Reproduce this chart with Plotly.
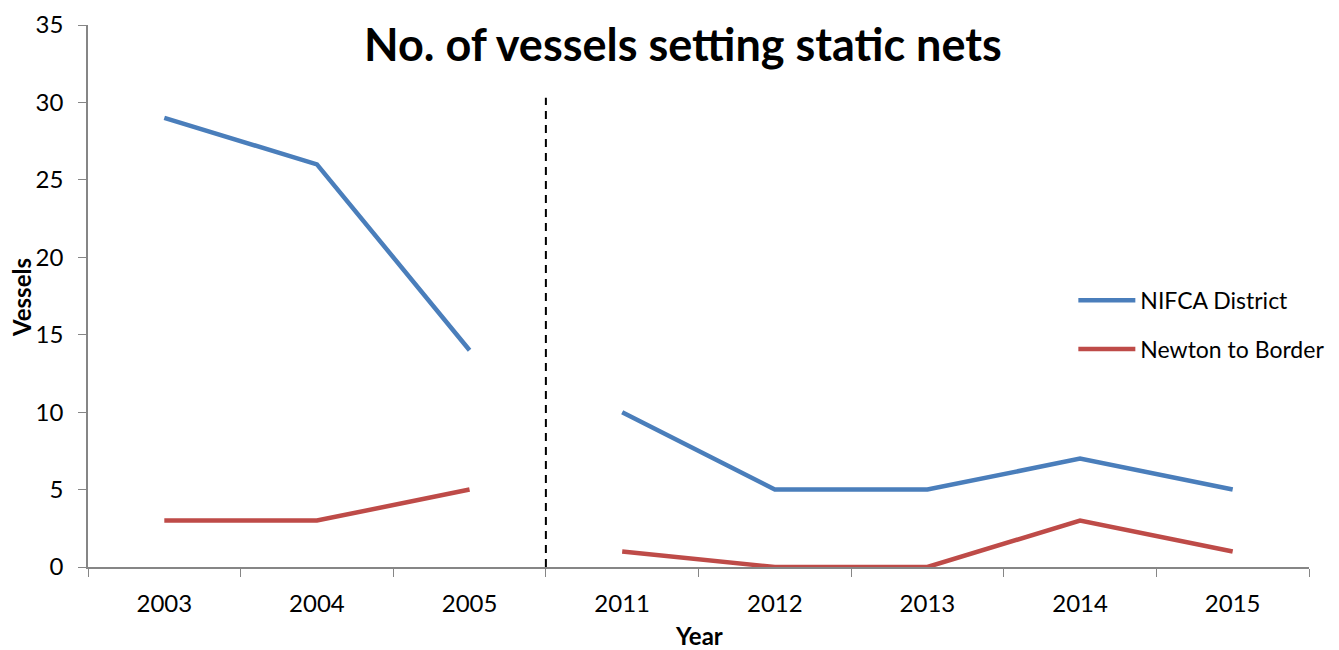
import plotly.graph_objects as go

# Survey years (two separate periods) and vessel counts
years_early = ["2003", "2004", "2005"]
years_late = ["2011", "2012", "2013", "2014", "2015"]
nifca_early = [29, 26, 14]
nifca_late = [10, 5, 5, 7, 5]
newton_early = [3, 3, 5]
newton_late = [1, 0, 0, 3, 1]
all_years = years_early + years_late

BLUE = "#4A7EBB"
RED = "#BE4B48"
FONT = "Lato"
AXIS_GREY = "#868686"

fig = go.Figure()

def add_series(name, color, early, late):
    fig.add_trace(go.Scatter(x=years_early, y=early, mode="lines", name=name,
                             legendgroup=name, showlegend=True,
                             line=dict(color=color, width=4.5)))
    fig.add_trace(go.Scatter(x=years_late, y=late, mode="lines", name=name,
                             legendgroup=name, showlegend=False,
                             line=dict(color=color, width=4.5)))

add_series("NIFCA District", BLUE, nifca_early, nifca_late)
add_series("Newton to Border", RED, newton_early, newton_late)

# Dashed divider between the two survey periods
fig.add_shape(type="line", xref="x", yref="y", x0=2.5, x1=2.5, y0=0, y1=30.3,
              line=dict(color="black", width=2, dash="8px,6px"))

# Axis titles placed as annotations relative to the plot area
fig.add_annotation(text="<b>Vessels</b>", xref="paper", yref="paper", x=0, y=0.5,
                   xanchor="center", yanchor="middle", xshift=-67, yshift=-2,
                   textangle=-90, showarrow=False, borderpad=0,
                   font=dict(family=FONT, size=24))
fig.add_annotation(text="<b>Year</b>", xref="paper", yref="paper", x=0.5, y=0,
                   xanchor="center", yanchor="middle", yshift=-68, borderpad=0,
                   showarrow=False, font=dict(family=FONT, size=24))

fig.update_layout(
    width=1339, height=650,
    margin=dict(l=88, r=30, t=25, b=83, autoexpand=False),
    paper_bgcolor="white", plot_bgcolor="white",
    font=dict(family=FONT, size=24, color="black"),
    title=dict(text="<b>No. of vessels setting static nets</b>",
               font=dict(family=FONT, size=45, color="black"),
               x=0.51, xanchor="center", y=0.93, yanchor="middle"),
    showlegend=True,
    legend=dict(x=0.807, y=0.447, xanchor="left", yanchor="middle",
                font=dict(family=FONT, size=23), itemwidth=57,
                tracegroupgap=16, bgcolor="rgba(0,0,0,0)"),
)

fig.update_xaxes(type="category", categoryorder="array", categoryarray=all_years,
                 range=[-0.5, 7.5], tickson="boundaries", ticks="outside",
                 ticklen=8, tickcolor=AXIS_GREY, showline=True, linecolor=AXIS_GREY,
                 linewidth=1.5, showgrid=False, zeroline=False, automargin=False,
                 ticklabelstandoff=14,
                 tickfont=dict(family=FONT, size=24))
fig.update_yaxes(range=[0, 35], dtick=5, ticks="outside", ticklen=8,
                 tickcolor=AXIS_GREY, showline=True, linecolor=AXIS_GREY,
                 linewidth=1.5, showgrid=False, zeroline=False, automargin=False,
                 ticklabelstandoff=10,
                 tickfont=dict(family=FONT, size=24))

fig.write_html("out.html")
